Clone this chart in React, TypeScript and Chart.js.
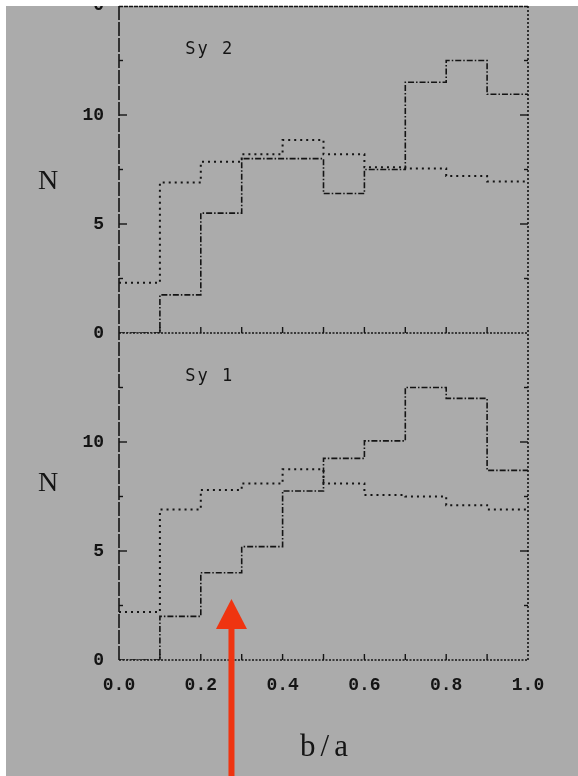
import { useEffect, useRef } from 'react';
import { Chart, registerables } from 'chart.js';

Chart.register(...registerables);

// ---- data ----
const BIN_EDGES = [0.0, 0.1, 0.2, 0.3, 0.4, 0.5, 0.6, 0.7, 0.8, 0.9, 1.0];
const SY2_OBSERVED = [0, 1.75, 5.5, 8.0, 8.0, 6.4, 7.5, 11.5, 12.5, 10.95];
const SY2_MODEL = [2.3, 6.9, 7.85, 8.2, 8.85, 8.2, 7.6, 7.55, 7.2, 6.95];
const SY1_OBSERVED = [0, 2.0, 4.0, 5.2, 7.75, 9.25, 10.05, 12.5, 12.0, 8.7];
const SY1_MODEL = [2.2, 6.9, 7.8, 8.1, 8.75, 8.1, 7.57, 7.5, 7.1, 6.9];

const X_TICK_VALUES = [0, 0.2, 0.4, 0.6, 0.8, 1.0];
const X_TICK_LABELS = ['0.0', '0.2', '0.4', '0.6', '0.8', '1.0'];
const X_MINOR_TICKS = [0.1, 0.2, 0.3, 0.4, 0.5, 0.6, 0.7, 0.8, 0.9];
const Y_TICK_VALUES = [0, 5, 10];
const Y_TICK_LABELS = ['0', '5', '10'];
const Y_ALL_TICKS = [2.5, 5, 7.5, 10, 12.5];
const Y_MAX = 15;

const PANEL_LABELS = ['Sy 2', 'Sy 1'];
const Y_TITLE = 'N';
const X_TITLE = 'b/a';
const ABOVE_PANEL_ZERO = '0';
const ARROW_X = 0.275;
const ARROW_TIP = 2.8;

// ---- styles ----
const GRAY = '#ababab';
const INK = '#141414';
const TICK_FONT = { family: '"Liberation Mono", "DejaVu Sans Mono", monospace', size: 18, weight: 'bold' as const };

const toSteps = (vals: number[]) =>
  BIN_EDGES.map((x, i) => ({ x, y: vals[Math.min(i, vals.length - 1)] }));

const observedStyle = {
  borderColor: INK,
  borderWidth: 1.6,
  borderDash: [6, 2, 1.5, 2],
  pointRadius: 0,
  stepped: 'before' as const,
  fill: false,
};
const modelStyle = {
  borderColor: INK,
  borderWidth: 2,
  borderDash: [2, 4],
  pointRadius: 0,
  stepped: 'before' as const,
  fill: false,
};

const yScale = () => ({
  type: 'linear' as const,
  position: 'left' as const,
  stack: 'panels',
  stackWeight: 1,
  min: 0,
  max: Y_MAX,
  afterBuildTicks: (s: any) => {
    s.ticks = Y_TICK_VALUES.map((v) => ({ value: v }));
  },
  ticks: {
    callback: (_v: any, i: number) => Y_TICK_LABELS[i],
    padding: 15,
    font: TICK_FONT,
    color: INK,
    autoSkip: false,
  },
  grid: { display: false, drawTicks: false },
  border: { display: false },
  afterFit: (s: any) => {
    s.width = 119;
    s.paddingTop = 0;
    s.paddingBottom = 0;
  },
});

const decor = {
  id: 'decor',
  beforeDraw(chart: any) {
    const { ctx, width, height } = chart;
    ctx.save();
    ctx.fillStyle = '#ffffff';
    ctx.fillRect(0, 0, width, height);
    ctx.fillStyle = GRAY;
    ctx.fillRect(6, 6, width - 6, height - 6);
    ctx.restore();
  },
  afterDraw(chart: any) {
    const { ctx, chartArea: ca, width, height } = chart;
    const x = chart.scales.x;
    const panels = [chart.scales.ySy2, chart.scales.ySy1];
    ctx.save();
    ctx.strokeStyle = INK;
    ctx.lineCap = 'butt';

    const line = (x1: number, y1: number, x2: number, y2: number, w: number, dash: number[]) => {
      ctx.beginPath();
      ctx.lineWidth = w;
      ctx.setLineDash(dash);
      ctx.moveTo(x1, y1);
      ctx.lineTo(x2, y2);
      ctx.stroke();
    };

    // frame
    line(ca.left, ca.top, ca.left, ca.bottom, 1.6, [14, 2]);
    line(ca.right, ca.top, ca.right, ca.bottom, 1.6, [2, 2]);
    line(ca.left, ca.top + 0.5, ca.right, ca.top + 0.5, 1.6, [4, 1]);

    panels.forEach((ys: any) => {
      const y0 = ys.getPixelForValue(0);
      line(ca.left, y0, ca.right, y0, 1.4, [2, 1.5]);
      X_MINOR_TICKS.forEach((v) => {
        const px = x.getPixelForValue(v);
        line(px, y0, px, y0 - 6, 1.4, []);
      });
      Y_ALL_TICKS.forEach((v) => {
        const py = ys.getPixelForValue(v);
        const len = v % 5 === 0 ? 8 : 4;
        line(ca.left, py, ca.left + len, py, 1.4, []);
        line(ca.right, py, ca.right - len, py, 1.4, []);
      });
    });
    ctx.setLineDash([]);

    // panel labels
    ctx.fillStyle = INK;
    ctx.font = '17px "DejaVu Sans Mono", monospace';
    (ctx as any).letterSpacing = '2px';
    ctx.textAlign = 'left';
    ctx.textBaseline = 'middle';
    PANEL_LABELS.forEach((lab, i) => {
      ctx.fillText(lab, x.getPixelForValue(0.162), panels[i].getPixelForValue(13));
    });
    (ctx as any).letterSpacing = '0px';

    // y titles
    ctx.font = '28px "Liberation Serif", "DejaVu Serif", serif';
    ctx.textAlign = 'center';
    ctx.textBaseline = 'alphabetic';
    ctx.fillText(Y_TITLE, ca.left - 71, panels[0].getPixelForValue(6.6));
    ctx.fillText(Y_TITLE, ca.left - 71, panels[1].getPixelForValue(7.75));

    // x title
    ctx.font = '31px "Liberation Serif", "DejaVu Serif", serif';
    (ctx as any).letterSpacing = '5px';
    ctx.fillText(X_TITLE, (ca.left + ca.right) / 2 + 3, ca.bottom + 96);
    (ctx as any).letterSpacing = '0px';

    // zero label of the panel above (clipped)
    ctx.save();
    ctx.beginPath();
    ctx.rect(6, 6, width - 6, height - 6);
    ctx.clip();
    ctx.font = `bold ${TICK_FONT.size}px ${TICK_FONT.family}`;
    ctx.textAlign = 'right';
    ctx.textBaseline = 'middle';
    ctx.fillText(ABOVE_PANEL_ZERO, ca.left - 15, panels[0].getPixelForValue(Y_MAX) - 1);
    ctx.restore();

    // red arrow
    const ax = x.getPixelForValue(ARROW_X);
    const tip = panels[1].getPixelForValue(ARROW_TIP);
    ctx.fillStyle = '#ef3410';
    ctx.fillRect(ax - 3, tip + 28, 6, height - tip - 28);
    ctx.beginPath();
    ctx.moveTo(ax, tip);
    ctx.lineTo(ax + 15.5, tip + 30);
    ctx.lineTo(ax - 15.5, tip + 30);
    ctx.closePath();
    ctx.fill();

    ctx.restore();
  },
};

export default function App() {
  const ref = useRef<HTMLCanvasElement>(null);
  useEffect(() => {
    const chart = new Chart(ref.current!, {
      type: 'line',
      data: {
        datasets: [
          { ...modelStyle, data: toSteps(SY2_MODEL), yAxisID: 'ySy2' },
          { ...observedStyle, data: toSteps(SY2_OBSERVED), yAxisID: 'ySy2' },
          { ...modelStyle, data: toSteps(SY1_MODEL), yAxisID: 'ySy1' },
          { ...observedStyle, data: toSteps(SY1_OBSERVED), yAxisID: 'ySy1' },
        ],
      },
      options: {
        responsive: false,
        animation: false,
        devicePixelRatio: 1,
        layout: { padding: { top: 6, left: 0, right: 50, bottom: 0 } },
        plugins: { legend: { display: false }, tooltip: { enabled: false } },
        scales: {
          x: {
            type: 'linear',
            position: 'bottom',
            min: 0,
            max: 1,
            afterBuildTicks: (s: any) => {
              s.ticks = X_TICK_VALUES.map((v) => ({ value: v }));
            },
            ticks: {
              callback: (_v: any, i: number) => X_TICK_LABELS[i],
              padding: 15,
              maxRotation: 0,
              autoSkip: false,
              font: TICK_FONT,
              color: INK,
            },
            grid: { display: false, drawTicks: false },
            border: { display: false },
            afterFit: (s: any) => {
              s.height = 116;
              s.paddingLeft = 0;
              s.paddingRight = 0;
            },
          },
          ySy1: yScale(),
          ySy2: yScale(),
        },
      } as any,
      plugins: [decor],
    });
    return () => chart.destroy();
  }, []);
  return (
    <div style={{ position: 'fixed', left: 0, top: 0, width: 578, height: 776 }}>
      <canvas ref={ref} width={578} height={776} style={{ display: 'block', width: 578, height: 776 }} />
    </div>
  );
}
